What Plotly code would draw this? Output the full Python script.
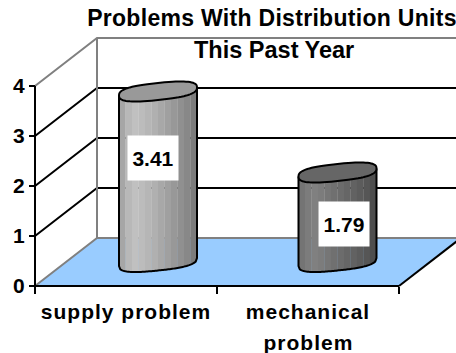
import json
import numpy as np
import plotly.graph_objects as go

# Chart content
title_lines = ["Problems With Distribution Units", "This Past Year"]
categories = ["supply problem", "mechanical"]
category_second_line = [None, "problem"]
values = [3.41, 1.79]
y_ticks = [0, 1, 2, 3, 4]

# Shading bands across each cylinder, left to right
bar_shades = [
    ["#a6a6a6", "#b8b8b8", "#c0c0c0", "#bcbcbc", "#b6b6b6", "#b0b0b0", "#a8a8a8",
     "#a0a0a0", "#989898", "#909090", "#888888", "#7c7c7c"],
    ["#747474", "#7c7c7c", "#808080", "#7c7c7c", "#767676", "#707070", "#6c6c6c",
     "#666666", "#626262", "#5c5c5c", "#565656", "#4e4e4e"],
]
cap_colors = ["#999999", "#666666"]
label_heights = [2.56, 1.24]
label_shifts = [-0.02, 0.03]

# Scale of the plotting area and the 3D depth, in data units
W, H = 456, 353
X0, Y0 = 35, 286
PX_X, PX_Y = 182.0, 50.0
DX, DY = 62 / PX_X, 48 / PX_Y
RX, RY, TILT = 39 / PX_X, 8.5 / PX_Y, 4 / PX_Y
ROUND = 2.7
BLACK, GRAY, FLOOR = "#000000", "#808080", "#99ccff"
FONT = "Liberation Sans, Arial, sans-serif"
bar_nudges = [1 / PX_X, -1.5 / PX_X]

fig = go.Figure()


def line(xs, ys, color, width=2):
    fig.add_trace(go.Scatter(x=xs, y=ys, mode="lines", hoverinfo="skip",
                             line=dict(color=color, width=width, simplify=False)))


def filled(xs, ys, fill, outline=None):
    fig.add_trace(go.Scatter(x=xs, y=ys, mode="lines", fill="toself", fillcolor=fill,
                             hoverinfo="skip",
                             line=dict(color=outline or fill, width=2 if outline else 0.5,
                                       simplify=False)))


# Floor
filled([0, 2, 2 + DX, DX], [0, 0, DY, DY], FLOOR)

# Back wall, side wall and gridlines
for v in y_ticks:
    color = GRAY if v in (y_ticks[0], y_ticks[-1]) else BLACK
    line([0, DX, 2 + DX], [v, v + DY, v + DY], color)
line([DX, DX], [DY, y_ticks[-1] + DY], GRAY)
line([2, 2 + DX], [0, DY], BLACK)

# Front axis lines
line([0, 2], [0, 0], BLACK)
line([0, 0], [y_ticks[0], y_ticks[-1]], BLACK)


def lower_edge(u):
    return -RY * (1 - np.abs(u) ** ROUND) ** (1 / ROUND) + TILT * u


def cap_outline(cx, cy):
    t = np.linspace(0, 2 * np.pi, 73)
    c, s = np.cos(t), np.sin(t)
    u = np.sign(c) * np.abs(c) ** (2 / ROUND)
    w = np.sign(s) * np.abs(s) ** (2 / ROUND)
    return cx + RX * u, cy + RY * w + TILT * u


# Cylinders
for i, v in enumerate(values):
    cx = i + 0.5 + DX / 2 + bar_nudges[i]
    base, top = DY / 2, DY / 2 + v
    shades = bar_shades[i]
    edges = np.linspace(-1, 1, len(shades) + 1)
    for a, b, shade in zip(edges[:-1], edges[1:], shades):
        u = np.linspace(a, b, 9)
        xs = cx + RX * u
        ys = base + lower_edge(u)
        filled(list(xs) + [xs[-1], xs[0]],
               list(ys) + [top + TILT * b, top + TILT * a], shade)
    u = np.linspace(-1, 1, 61)
    line([cx - RX] + list(cx + RX * u) + [cx + RX],
         [top - TILT] + list(base + lower_edge(u)) + [top + TILT], BLACK)
    xs, ys = cap_outline(cx, top)
    filled(xs, ys, cap_colors[i], BLACK)

annotations = []
spacing = {title_lines[0]: 0.3}

# Value labels on white boxes
for i, v in enumerate(values):
    text = f"{v:.2f}"
    annotations.append(dict(
        x=i + 0.5 + DX / 2 + label_shifts[i], y=label_heights[i], xref="x", yref="y",
        text=f"<b>{text}</b>", showarrow=False, bgcolor="#ffffff",
        width=48, height=42, font=dict(family=FONT, size=21, color=BLACK)))

# Second title line, placed by hand for its wide leading
annotations.append(dict(
    x=274 / W, y=1 - 50 / H, xref="paper", yref="paper", xanchor="center", yanchor="middle",
    text=f"<b>{title_lines[1]}</b>", showarrow=False,
    font=dict(family=FONT, size=23.5, color=BLACK)))

# Category labels that continue onto a second line
for i, text in enumerate(category_second_line):
    if text:
        spacing[text] = 1
        annotations.append(dict(
            x=i + 0.5, y=0, xref="x", yref="y", yanchor="middle", yshift=-56,
            text=f"<b>{text}</b>", showarrow=False,
            font=dict(family=FONT, size=21, color=BLACK)))
for text in categories:
    spacing[text] = 1

fig.update_layout(
    width=W, height=H, autosize=False, showlegend=False,
    paper_bgcolor="#ffffff", plot_bgcolor="#ffffff",
    margin=dict(l=0, r=0, t=0, b=0),
    font=dict(family=FONT, color=BLACK),
    title=dict(text=f"<b>{title_lines[0]}</b>", x=272 / W, xanchor="center", xref="paper",
               y=1 - 18 / H, yanchor="middle", yref="paper",
               font=dict(family=FONT, size=23, color=BLACK)),
    annotations=annotations,
    xaxis=dict(
        range=[-X0 / PX_X, (W - X0) / PX_X], domain=[0, 1], anchor="free", position=(H - Y0) / H,
        showgrid=False, zeroline=False, fixedrange=True, showline=False,
        tickmode="array", tickvals=[0.5, 1.5],
        ticktext=[f"<b>{c}</b>" for c in categories],
        ticks="", ticklabelstandoff=11, tickfont=dict(family=FONT, size=21, color=BLACK),
        minor=dict(tickmode="array", tickvals=[0, 1, 2], ticks="outside", ticklen=7,
                   tickwidth=2, tickcolor=BLACK, showgrid=False),
    ),
    yaxis=dict(
        range=[(Y0 - H) / PX_Y, Y0 / PX_Y], domain=[0, 1], anchor="free", position=X0 / W,
        showgrid=False, zeroline=False, fixedrange=True, showline=False,
        tickmode="array", tickvals=y_ticks, ticktext=[f"<b>{t}</b>" for t in y_ticks],
        ticks="outside", ticklen=6, tickwidth=2, tickcolor=BLACK,
        tickfont=dict(family=FONT, size=21, color=BLACK),
    ),
)

# Letter spacing for the wide bold labels
post = """
var gd = document.getElementById('chart');
var spacing = %s;
function spread() {
  gd.querySelectorAll('.gtitle, .annotation-text, .xtick text').forEach(function (t) {
    var s = spacing[t.textContent];
    if (s) t.style.letterSpacing = s + 'px';
  });
}
spread();
gd.on('plotly_afterplot', spread);
""" % json.dumps(spacing)

fig.write_html("out.html", config=dict(displayModeBar=False), div_id="chart", post_script=post)
